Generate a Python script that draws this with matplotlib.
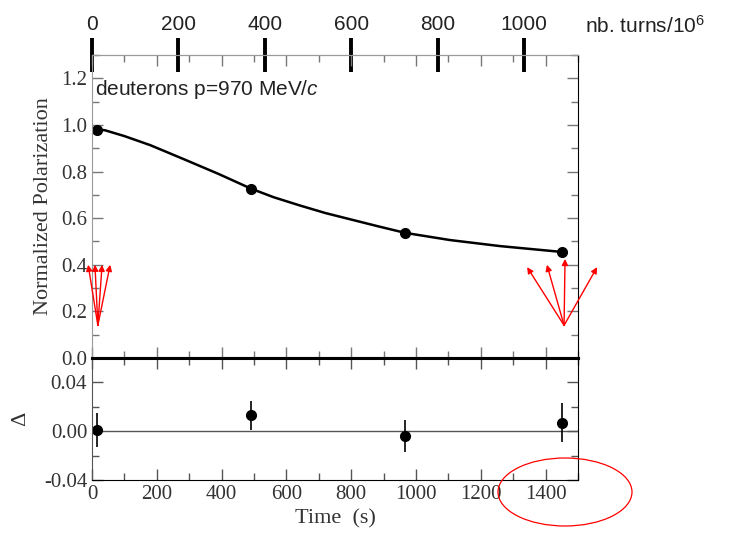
import numpy as np
import matplotlib.pyplot as plt
from matplotlib.patches import Ellipse
from matplotlib.ticker import MultipleLocator

plt.rcParams['mathtext.fontset'] = 'custom'
plt.rcParams['mathtext.rm'] = 'Liberation Sans'
plt.rcParams['mathtext.it'] = 'Liberation Sans:italic'

# measured points
t_pts = [15, 490, 966, 1450]
pol = [0.98, 0.727, 0.537, 0.455]
delta = [0.001, 0.013, -0.004, 0.007]
delta_err = [0.014, 0.012, 0.013, 0.016]

# fit curve
t_fit = [0, 40, 100, 180, 290, 390, 490, 560, 640, 720, 800, 880, 966, 1105, 1260, 1450]
pol_fit = [0.982, 0.977, 0.952, 0.913, 0.849, 0.79, 0.727, 0.69, 0.655, 0.622, 0.594, 0.566, 0.537, 0.506, 0.48, 0.455]

# top axis: turns / 10^6 per second
turns_per_s = 0.75
turn_ticks = [0, 200, 400, 600, 800, 1000]

# spin vector sketches (start point + tips)
left_start = (18, 0.14)
left_tips_t = [-12, 9, 31, 56]
left_tips_p = [0.40, 0.40, 0.40, 0.40]
right_start = (1457, 0.14)
right_tips_t = [1343, 1404, 1460, 1559]
right_tips_p = [0.39, 0.40, 0.425, 0.39]

serif = 'Liberation Serif'
sans = 'Liberation Sans'
txt = '#333333'

fig = plt.figure(figsize=(7.31, 5.39), dpi=100)
ax1 = fig.add_axes([0.1259, 0.3358, 0.6648, 0.5622])
ax2 = fig.add_axes([0.1259, 0.1095, 0.6648, 0.2263], sharex=ax1)

# upper panel
ax1.plot(t_fit, pol_fit, color='black', lw=1.8)
ax1.plot(t_pts, pol, 'o', color='black', ms=7)
ax1.set_xlim(0, 1500)
ax1.set_ylim(0, 1.3)
ax1.yaxis.set_major_locator(MultipleLocator(0.2))
ax1.yaxis.set_minor_locator(MultipleLocator(0.1))
ax1.xaxis.set_major_locator(MultipleLocator(200))
ax1.xaxis.set_minor_locator(MultipleLocator(100))
ax1.set_yticks([0, 0.2, 0.4, 0.6, 0.8, 1.0, 1.2])
ax1.set_yticklabels(['0.0', '0.2', '0.4', '0.6', '0.8', '1.0', '1.2'])
ax1.tick_params(which='both', direction='in', left=True, right=True, top=True,
                bottom=True, labelbottom=False, color='#777777')
ax1.tick_params(which='major', length=8, width=1)
ax1.tick_params(which='minor', length=5, width=1)
for lab in ax1.get_yticklabels():
    lab.set_fontfamily(serif)
    lab.set_fontsize(15)
    lab.set_color(txt)
ax1.spines['left'].set_color('#999999')
ax1.spines['top'].set_color('#999999')
ax1.spines['right'].set_color('black')
ax1.spines['bottom'].set_color('black')
ax1.spines['bottom'].set_linewidth(2.2)
ax1.set_ylabel('Normalized Polarization', fontfamily=serif, fontsize=16, color=txt, labelpad=6)

ax1.text(8, 1.15, 'deuterons p=970 MeV/$\\it{c}$', fontfamily=sans, fontsize=15,
         color='#222222', va='center', ha='left')

sec = ax1.secondary_xaxis('top', functions=(lambda t: t * turns_per_s, lambda n: n / turns_per_s))
sec.set_xticks(turn_ticks)
sec.tick_params(direction='inout', length=24, width=2.8, color='black', pad=3, labelsize=15)
for lab in sec.get_xticklabels():
    lab.set_fontfamily(sans)
    lab.set_color('#222222')
sec.spines['top'].set_color('#999999')
fig.text(585 / 731, 1 - 26 / 539, 'nb. turns/10$^6$', fontfamily=sans, fontsize=15,
         color='#222222', va='center', ha='left')

# spin arrows
for tt, pp in zip(left_tips_t, left_tips_p):
    ax1.annotate('', xy=(tt, pp), xytext=left_start, annotation_clip=False,
                 arrowprops=dict(arrowstyle='-|>', color='red', lw=1, mutation_scale=9,
                                 shrinkA=0, shrinkB=0))
for tt, pp in zip(right_tips_t, right_tips_p):
    ax1.annotate('', xy=(tt, pp), xytext=right_start, annotation_clip=False,
                 arrowprops=dict(arrowstyle='-|>', color='red', lw=1, mutation_scale=9,
                                 shrinkA=0, shrinkB=0))

# lower panel
ax2.axhline(0, color='#555555', lw=1)
ax2.errorbar(t_pts, delta, yerr=delta_err, fmt='o', color='black', ms=7, elinewidth=1.2, capsize=0)
ax2.set_ylim(-0.04, 0.06)
ax2.set_yticks([-0.04, 0.0, 0.04])
ax2.set_yticklabels(['-0.04', '0.00', '0.04'])
ax2.yaxis.set_minor_locator(MultipleLocator(0.02))
ax2.set_xticks([0, 200, 400, 600, 800, 1000, 1200, 1400])
ax2.tick_params(which='both', direction='in', left=True, right=True, top=True, bottom=True,
                color='#555555')
ax2.tick_params(which='major', length=8, width=1)
ax2.tick_params(which='minor', length=5, width=1)
for lab in ax2.get_xticklabels() + ax2.get_yticklabels():
    lab.set_fontfamily(serif)
    lab.set_fontsize(15)
    lab.set_color(txt)
ax2.spines['top'].set_linewidth(2.2)
ax2.spines['left'].set_color('#555555')
ax2.set_ylabel('Δ', fontfamily=serif, fontsize=16, color=txt, labelpad=10)
ax2.set_xlabel('Time  (s)', fontfamily=serif, fontsize=16, color=txt, labelpad=4)

# circle highlighting the end of the cycle
fig.patches.append(Ellipse((565 / 731, 1 - 492 / 539), 134 / 731, 68 / 539,
                           transform=fig.transFigure, fill=False, edgecolor='red', lw=0.9))

fig.savefig('out.png', dpi=100)
